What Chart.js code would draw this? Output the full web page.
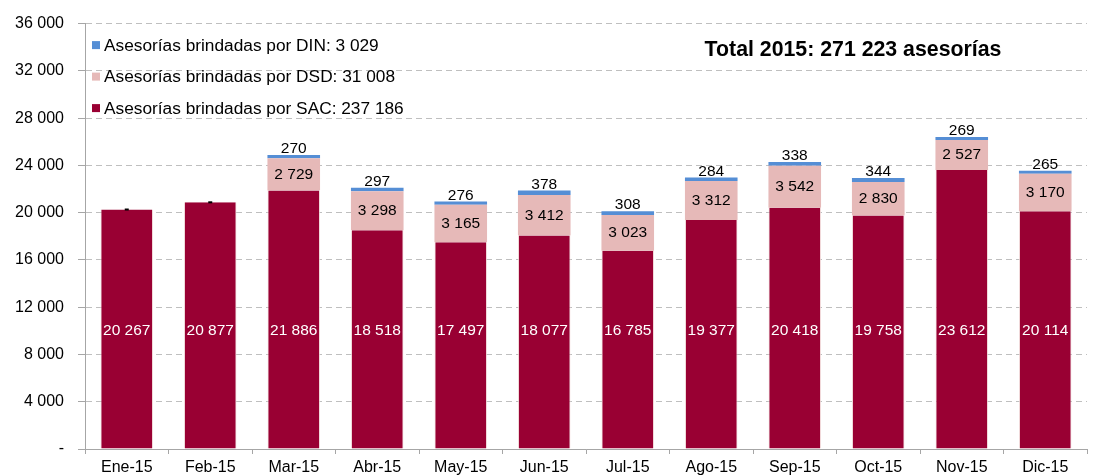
<!DOCTYPE html>
<html>
<head>
<meta charset="utf-8">
<script src="https://cdn.jsdelivr.net/npm/chart.js@4.4.1/dist/chart.umd.min.js"></script>
<style>
html,body{margin:0;padding:0;background:#fff;}
#wrap{width:1093px;height:476px;position:relative;}
</style>
</head>
<body>
<div id="wrap"><canvas id="c" width="1093" height="476"></canvas></div>
<script>
const months = ['Ene-15','Feb-15','Mar-15','Abr-15','May-15','Jun-15','Jul-15','Ago-15','Sep-15','Oct-15','Nov-15','Dic-15'];
const sacValues = [20267,20877,21886,18518,17497,18077,16785,19377,20418,19758,23612,20114];
const dsdValues = [0,0,2729,3298,3165,3412,3023,3312,3542,2830,2527,3170];
const dinValues = [0,0,270,297,276,378,308,284,338,344,269,265];
const seriesNames = ['Asesorías brindadas por SAC','Asesorías brindadas por DSD','Asesorías brindadas por DIN'];
const yTicks = [0,4000,8000,12000,16000,20000,24000,28000,32000,36000];
const titleText = 'Total 2015: 271 223 asesorías';
const sacLabelLevel = 10000;

const FONT = '"Liberation Sans", Arial, sans-serif';
function fmt(n){ if(n===0) return '-'; return String(n).replace(/\B(?=(\d{3})+(?!\d))/g,' '); }
const sum = a => a.reduce((s,v)=>s+v,0);

const colors = ['#990033','#E6B9B8','#558ED5'];
const labelColors = ['#ffffff','#000000','#000000'];

const labelPlugin = {
  id:'customLabels',
  afterDatasetsDraw(chart){
    const ctx = chart.ctx;
    const yScale = chart.scales.y;
    ctx.save();
    ctx.font = '15.5px ' + FONT;
    ctx.textAlign = 'center';
    chart.data.datasets.forEach((ds,di)=>{
      const meta = chart.getDatasetMeta(di);
      meta.data.forEach((bar,i)=>{
        const v = ds.data[i];
        if(!v){
          if(di===1){
            ctx.fillStyle = '#000';
            ctx.fillRect(bar.x-2, bar.y-1, 4, 2);
          }
          return;
        }
        ctx.fillStyle = labelColors[di];
        if(di===2){
          ctx.textBaseline = 'alphabetic';
          ctx.fillText(fmt(v), bar.x, bar.y-2);
        } else if(di===0){
          ctx.textBaseline = 'middle';
          ctx.fillText(fmt(v), bar.x, yScale.getPixelForValue(sacLabelLevel));
        } else {
          ctx.textBaseline = 'middle';
          ctx.fillText(fmt(v), bar.x, (bar.y+bar.base)/2);
        }
      });
    });
    // legend (reverse order)
    const ca = chart.chartArea;
    ctx.font = '17.3px ' + FONT;
    ctx.textAlign = 'left';
    ctx.textBaseline = 'middle';
    const order = [2,1,0];
    const datasets = chart.data.datasets;
    order.forEach((di,k)=>{
      const y = ca.top + 21.5 + k*31.5;
      ctx.fillStyle = colors[di];
      ctx.fillRect(ca.left+7, y-4, 8, 8);
      ctx.fillStyle = '#000';
      ctx.fillText(datasets[di].label + ': ' + fmt(sum(datasets[di].data)), ca.left+19, y+1);
    });
    // title
    ctx.font = 'bold 21.3px ' + FONT;
    ctx.textAlign = 'center';
    ctx.fillText(titleText, 853, ca.top + 27);
    ctx.restore();
  }
};

new Chart(document.getElementById('c'), {
  type:'bar',
  data:{
    labels: months,
    datasets:[
      {label:seriesNames[0], data:sacValues, backgroundColor:colors[0], borderColor:'rgba(242,220,219,0.8)', borderWidth:{left:1,right:1}},
      {label:seriesNames[1], data:dsdValues, backgroundColor:colors[1], borderWidth:0},
      {label:seriesNames[2], data:dinValues, backgroundColor:colors[2], borderWidth:0}
    ]
  },
  options:{
    responsive:false,
    animation:false,
    layout:{padding:{top:21,right:6,left:0,bottom:0}},
    datasets:{bar:{categoryPercentage:1, barPercentage:0.63}},
    plugins:{legend:{display:false}, tooltip:{enabled:false}, title:{display:false}},
    scales:{
      x:{
        stacked:true,
        grid:{display:true, drawOnChartArea:false, offset:true, tickLength:5, color:'#A6A6A6'},
        border:{display:true, color:'#A6A6A6', width:1},
        ticks:{color:'#000', font:{family:FONT, size:16}, padding:4, maxRotation:0, autoSkip:false},
        afterFit(s){ s.height = 27; }
      },
      y:{
        stacked:true,
        min:0, max:36000,
        afterBuildTicks(s){ s.ticks = yTicks.map(v=>({value:v})); },
        grid:{color:'#BFBFBF', lineWidth:1, tickLength:7, tickColor:'#A6A6A6'},
        border:{display:true, color:'#A6A6A6', width:1, dash:[6,4]},
        ticks:{color:'#000', font:{family:FONT, size:16}, padding:14, callback:(v)=>fmt(v)},
        afterFit(s){ s.width = 85; }
      }
    }
  },
  plugins:[labelPlugin]
});
</script>
</body>
</html>
